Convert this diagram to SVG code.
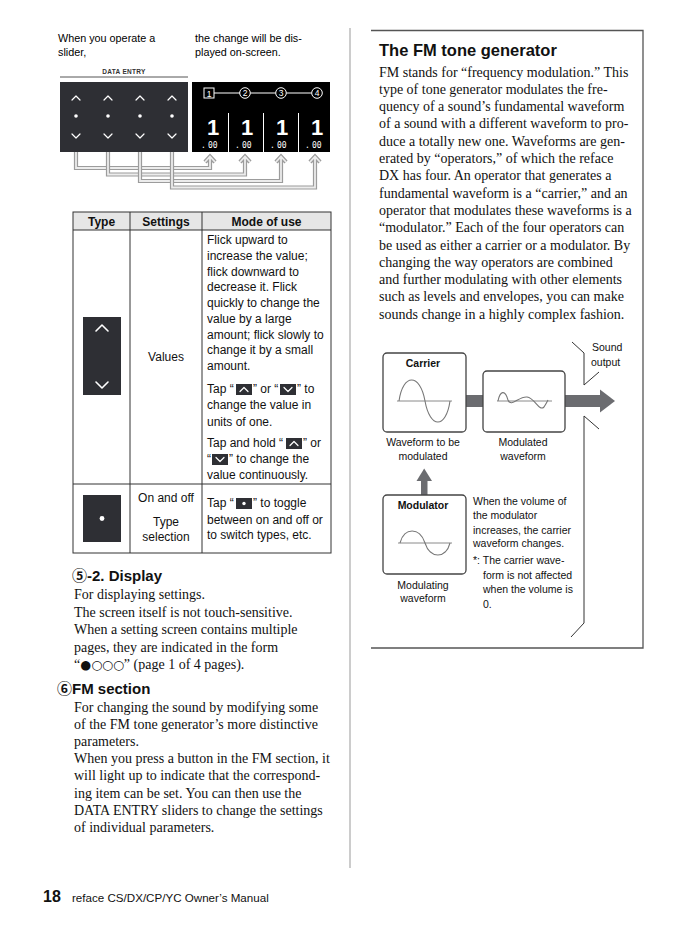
<svg xmlns="http://www.w3.org/2000/svg" width="696" height="932" viewBox="0 0 696 932">
<style>
.sans{font-family:"Liberation Sans",Arial,"Noto Sans CJK JP",sans-serif}
.serif{font-family:"Liberation Serif","Times New Roman","Noto Sans CJK JP",serif}
.b{font-weight:bold}
.t12{font-size:12px;fill:#111}
.body{font-size:14px;fill:#111}
.lab{font-size:10.5px;fill:#111}
.mid{text-anchor:middle}
.chev{fill:none;stroke:#fff;stroke-width:1.2;stroke-linecap:round;stroke-linejoin:round}
.chevB{fill:none;stroke:#fff;stroke-width:1.6;stroke-linecap:round;stroke-linejoin:round}
.conO{fill:none;stroke:#9c9c9c;stroke-width:4.2;stroke-linejoin:miter}
.conI{fill:none;stroke:#ececec;stroke-width:1.8;stroke-linejoin:miter}
.dark{fill:#2e2f34}
.gbar{fill:#6b6c70}
.box{fill:#fff;stroke:#444;stroke-width:1.3}
.axis{stroke:#8a8a8a;stroke-width:1;fill:none}
.wave{stroke:#777;stroke-width:1.1;fill:none}
.rule{stroke:#333;stroke-width:1;fill:none}
.disp{fill:#fff;font-family:"Liberation Sans",Arial,sans-serif}
.dots{font-family:"DejaVu Sans",sans-serif;font-size:12.5px}
</style>
<defs>
<g id="icUp"><rect width="16" height="11" fill="#2e2f34"/><polyline points="4,7.5 8,3.5 12,7.5" class="chev"/></g>
<g id="icDn"><rect width="16" height="11" fill="#2e2f34"/><polyline points="4,3.5 8,7.5 12,3.5" class="chev"/></g>
<g id="icDot"><rect width="16" height="11" fill="#2e2f34"/><circle cx="8" cy="5.5" r="1.7" fill="#fff"/></g>
<g id="col3"><polyline points="-4,2 0,-2 4,2" class="chev"/><circle cx="0" cy="18" r="1.8" fill="#fff"/><polyline points="-4,36 0,40 4,36" class="chev"/></g>
</defs>
<rect width="696" height="932" fill="#fff"/>

<!-- column separator -->
<line x1="350" y1="28" x2="350" y2="868" stroke="#999" stroke-width="1"/>

<!-- top intro texts -->
<g id="intro">
<text class="sans" font-size="10.8" x="58" y="42">When you operate a</text>
<text class="sans" font-size="10.8" x="58" y="56">slider,</text>
<text class="sans" font-size="10.8" x="195" y="42">the change will be dis-</text>
<text class="sans" font-size="10.8" x="195" y="56">played on-screen.</text>
</g>

<!-- DATA ENTRY slider panel -->
<g id="slider-panel">
<text class="sans b mid" font-size="6.5" x="124" y="74" fill="#333" letter-spacing="0.3">DATA ENTRY</text>
<line x1="60" y1="77" x2="188" y2="77" stroke="#555" stroke-width="1"/>
<rect x="60" y="82" width="128" height="70" class="dark"/>
<use href="#col3" x="76" y="98"/>
<use href="#col3" x="108" y="98"/>
<use href="#col3" x="140" y="98"/>
<use href="#col3" x="172" y="98"/>
</g>

<!-- display panel -->
<g id="display">
<rect x="192" y="82" width="138" height="70" fill="#000"/>
<line x1="214" y1="93" x2="240" y2="93" stroke="#fff" stroke-width="1"/>
<line x1="250.5" y1="93" x2="275.5" y2="93" stroke="#fff" stroke-width="1"/>
<line x1="286.5" y1="93" x2="311.5" y2="93" stroke="#fff" stroke-width="1"/>
<rect x="204" y="88" width="10" height="10" fill="none" stroke="#fff" stroke-width="1"/>
<text class="disp mid" font-size="8.5" x="209" y="96.5">1</text>
<circle cx="245" cy="93" r="5.3" fill="none" stroke="#fff" stroke-width="1"/>
<text class="disp mid" font-size="8.5" x="245" y="96.2">2</text>
<circle cx="281" cy="93" r="5.3" fill="none" stroke="#fff" stroke-width="1"/>
<text class="disp mid" font-size="8.5" x="281" y="96.2">3</text>
<circle cx="317" cy="93" r="5.3" fill="none" stroke="#fff" stroke-width="1"/>
<text class="disp mid" font-size="8.5" x="317" y="96.2">4</text>
<line x1="228.5" y1="113" x2="228.5" y2="152" stroke="#fff" stroke-width="1"/>
<line x1="263.5" y1="113" x2="263.5" y2="152" stroke="#fff" stroke-width="1"/>
<line x1="298.5" y1="113" x2="298.5" y2="152" stroke="#fff" stroke-width="1"/>
<text class="disp b mid" font-size="22" x="213" y="135">1</text>
<text class="disp b mid" font-size="22" x="247" y="135">1</text>
<text class="disp b mid" font-size="22" x="282" y="135">1</text>
<text class="disp b mid" font-size="22" x="317" y="135">1</text>
<g font-family="'DejaVu Sans Mono',monospace" font-size="8" fill="#fff">
<text x="201" y="148">.</text><text x="208" y="148">00</text>
<text x="235" y="148">.</text><text x="242" y="148">00</text>
<text x="270" y="148">.</text><text x="277" y="148">00</text>
<text x="305" y="148">.</text><text x="312" y="148">00</text>
</g>
</g>

<!-- connectors slider -> display -->
<g id="connectors">
<path class="conO" d="M76,152 V168 H210 V157 M205,162 L210,156.5 L215,162"/>
<path class="conI" d="M76,152 V168 H210 V157 M205,162 L210,156.5 L215,162"/>
<path class="conO" d="M108,152 V174.5 H245 V157 M240,162 L245,156.5 L250,162"/>
<path class="conI" d="M108,152 V174.5 H245 V157 M240,162 L245,156.5 L250,162"/>
<path class="conO" d="M140,152 V181 H281 V157 M276,162 L281,156.5 L286,162"/>
<path class="conI" d="M140,152 V181 H281 V157 M276,162 L281,156.5 L286,162"/>
<path class="conO" d="M172,152 V187.5 H315 V157 M310,162 L315,156.5 L320,162"/>
<path class="conI" d="M172,152 V187.5 H315 V157 M310,162 L315,156.5 L320,162"/>
</g>

<!-- table -->
<g id="table">
<rect x="73" y="212" width="258" height="18" fill="#e6e6e6"/>
<rect x="73" y="212" width="258" height="341" class="rule"/>
<line x1="73" y1="230" x2="331" y2="230" class="rule"/>
<line x1="73" y1="484" x2="331" y2="484" class="rule"/>
<line x1="130" y1="212" x2="130" y2="553" class="rule"/>
<line x1="202" y1="212" x2="202" y2="553" class="rule"/>
<text class="sans b t12 mid" x="101.5" y="225.5">Type</text>
<text class="sans b t12 mid" x="166" y="225.5">Settings</text>
<text class="sans b t12 mid" x="266.5" y="225.5">Mode of use</text>

<rect x="83" y="317" width="38" height="78" class="dark"/>
<polyline points="96,331 102,325 108,331" class="chevB"/>
<polyline points="96,382 102,388 108,382" class="chevB"/>
<text class="sans t12 mid" x="166" y="361">Values</text>
<g class="sans t12">
<text x="207" y="244">Flick upward to</text>
<text x="207" y="259.5">increase the value;</text>
<text x="207" y="275.5">flick downward to</text>
<text x="207" y="291">decrease it. Flick</text>
<text x="207" y="307">quickly to change the</text>
<text x="207" y="322.5">value by a large</text>
<text x="207" y="338.5">amount; flick slowly to</text>
<text x="207" y="354">change it by a small</text>
<text x="207" y="370">amount.</text>
<text x="207" y="393">Tap “</text>
<text x="253" y="393">” or “</text>
<text x="297" y="393">” to</text>
<text x="207" y="409">change the value in</text>
<text x="207" y="425.5">units of one.</text>
<text x="207" y="447">Tap and hold “</text>
<text x="303" y="447">” or</text>
<text x="207" y="463">“</text>
<text x="229" y="463">” to change the</text>
<text x="207" y="478.5">value continuously.</text>
<text x="207" y="507">Tap “</text>
<text x="253" y="507">” to toggle</text>
<text x="207" y="523.5">between on and off or</text>
<text x="207" y="539">to switch types, etc.</text>
</g>
<use href="#icUp" x="236" y="384"/>
<use href="#icDn" x="280" y="384"/>
<use href="#icUp" x="286" y="438"/>
<use href="#icDn" x="212" y="454"/>
<use href="#icDot" x="236" y="498"/>

<rect x="83" y="495" width="38" height="47" class="dark"/>
<circle cx="102" cy="518.5" r="2.4" fill="#fff"/>
<text class="sans t12 mid" x="166" y="502">On and off</text>
<text class="sans t12 mid" x="166" y="526">Type</text>
<text class="sans t12 mid" x="166" y="541">selection</text>
</g>

<!-- left column text -->
<g id="display-section">
<text class="sans b" font-size="15" x="72" y="580.5" fill="#111">⑤-2. Display</text>
<g class="serif body">
<text x="74" y="599">For displaying settings.</text>
<text x="74" y="616.5">The screen itself is not touch-sensitive.</text>
<text x="74" y="634">When a setting screen contains multiple</text>
<text x="74" y="651.5">pages, they are indicated in the form</text>
<text x="74" y="669">“<tspan class="dots">●○○○</tspan>” (page 1 of 4 pages).</text>
</g>
</g>
<g id="fm-section">
<text class="sans b" font-size="15" x="57" y="693.5" fill="#111">⑥FM section</text>
<g class="serif body">
<text x="74" y="711.5">For changing the sound by modifying some</text>
<text x="74" y="728.7">of the FM tone generator’s more distinctive</text>
<text x="74" y="745.9">parameters.</text>
<text x="74" y="763.1">When you press a button in the FM section, it</text>
<text x="74" y="780.3">will light up to indicate that the correspond-</text>
<text x="74" y="797.5">ing item can be set. You can then use the</text>
<text x="74" y="814.7">DATA ENTRY sliders to change the settings</text>
<text x="74" y="831.9">of individual parameters.</text>
</g>
</g>

<!-- footer -->
<g id="footer">
<text class="sans b" font-size="16" x="43" y="902" fill="#111">18</text>
<text class="sans" font-size="11.6" x="72" y="902" fill="#111">reface CS/DX/CP/YC Owner’s Manual</text>
</g>

<!-- right column box -->
<g id="fm-box">
<polyline points="371,30.5 643,30.5 643,648 371,648" fill="none" stroke="#555" stroke-width="1.3"/>
<text class="sans b" font-size="16.5" x="379" y="56" fill="#111">The FM tone generator</text>
<g class="serif body">
<text x="379" y="76.5">FM stands for “frequency modulation.” This</text>
<text x="379" y="93.8">type of tone generator modulates the fre-</text>
<text x="379" y="111.1">quency of a sound’s fundamental waveform</text>
<text x="379" y="128.4">of a sound with a different waveform to pro-</text>
<text x="379" y="145.7">duce a totally new one. Waveforms are gen-</text>
<text x="379" y="163">erated by “operators,” of which the reface</text>
<text x="379" y="180.3">DX has four. An operator that generates a</text>
<text x="379" y="197.6">fundamental waveform is a “carrier,” and an</text>
<text x="379" y="214.9">operator that modulates these waveforms is a</text>
<text x="379" y="232.2">“modulator.” Each of the four operators can</text>
<text x="379" y="249.5">be used as either a carrier or a modulator. By</text>
<text x="379" y="266.8">changing the way operators are combined</text>
<text x="379" y="284.1">and further modulating with other elements</text>
<text x="379" y="301.4">such as levels and envelopes, you can make</text>
<text x="379" y="318.7">sounds change in a highly complex fashion.</text>
</g>
</g>

<!-- FM diagram -->
<g id="fm-arrows">
<rect x="466" y="395" width="17" height="12" class="gbar"/>
<rect x="565" y="395" width="36" height="12" class="gbar"/>
<polygon points="600,389.5 615,401 600,412.5" class="gbar"/>
<rect x="421" y="480" width="6.5" height="15" class="gbar"/>
<polygon points="416.5,481 424.2,468.5 432,481" class="gbar"/>
</g>
<g id="carrier">
<rect x="383" y="353" width="83" height="79" rx="4" class="box"/>
<text class="sans b lab mid" x="423" y="367">Carrier</text>
<line x1="397" y1="401" x2="452" y2="401" class="axis"/>
<path d="M399,401 C403,373 420,373 425,401 S446,429 450,401" class="wave"/>
<text class="sans lab mid" x="423" y="446">Waveform to be</text>
<text class="sans lab mid" x="423" y="460">modulated</text>
</g>
<g id="modulated">
<rect x="483" y="371" width="82" height="61" rx="4" class="box"/>
<line x1="497" y1="401" x2="552" y2="401" class="axis"/>
<path d="M498,401 C500,391 505,389 508,400 C511,408 519,396 527,397 C535,398 539,412 544,407 C546,404 547,402 548,400" class="wave"/>
<text class="sans lab mid" x="523" y="446">Modulated</text>
<text class="sans lab mid" x="523" y="460">waveform</text>
</g>
<g id="modulator">
<rect x="383" y="495" width="83" height="79" rx="4" class="box"/>
<text class="sans b lab mid" x="423" y="509">Modulator</text>
<line x1="398" y1="543" x2="452" y2="543" class="axis"/>
<path d="M400,543 C404,527 420,527 425,543 S446,559 450,543" class="wave"/>
<text class="sans lab mid" x="423" y="589">Modulating</text>
<text class="sans lab mid" x="423" y="602">waveform</text>
</g>
<g id="sound-output">
<path d="M572,342 L584,353 V385 L599,372 M599,429 L584,416 V623 L571,637" fill="none" stroke="#333" stroke-width="1"/>
<text class="sans lab" x="592" y="351">Sound</text>
<text class="sans lab" x="591" y="365.5">output</text>
</g>
<g id="note" class="sans lab">
<text x="473" y="505">When the volume of</text>
<text x="473" y="519">the modulator</text>
<text x="473" y="533.5">increases, the carrier</text>
<text x="473" y="547">waveform changes.</text>
<text x="473" y="564">*: The carrier wave-</text>
<text x="483" y="578.5">form is not affected</text>
<text x="483" y="593">when the volume is</text>
<text x="483" y="607.5">0.</text>
</g>
</svg>
